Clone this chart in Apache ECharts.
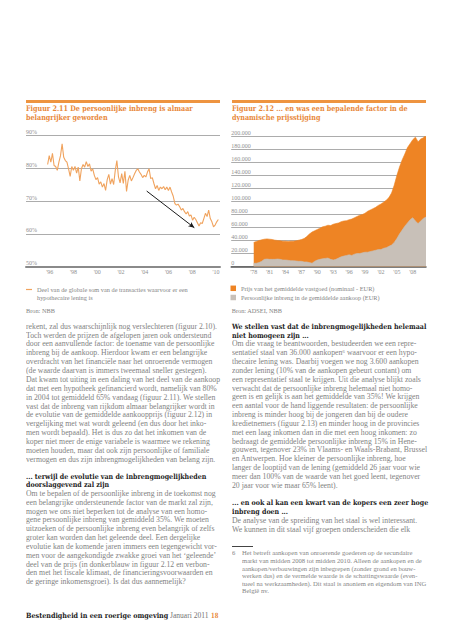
<!DOCTYPE html>
<html><head><meta charset="utf-8">
<script src="https://cdn.jsdelivr.net/npm/echarts@6/dist/echarts.min.js"></script>
<style>
html,body{margin:0;padding:0;background:#fff;}
#chart{position:absolute;left:0;top:0;width:452px;height:640px;}
#page{position:absolute;left:0;top:0;width:452px;height:640px;pointer-events:none;}
.t{position:absolute;white-space:nowrap;transform-origin:0 50%;}
.bar{position:absolute;background:#EE9440;}
</style></head><body>
<div id="chart"></div><div id="page"></div>
<script>
// ---------- DATA ----------
// Figuur 2.11: share of transactions financed with a mortgage (%), ~1996-2010
const leftStartYear = 1995.82;
const leftEndYear = 2010.19;
const leftShare = [81.2,83.9,81.9,84.6,80.9,80.6,79.4,81.9,83.9,87.5,83.4,82.4,81.9,79.9,77.6,80.6,79.4,80.6,78.6,80.4,
  76.2,79.9,81.2,80.4,82.1,80.6,81.4,79.2,79.9,77.9,76.6,77.2,75.2,75.9,74.3,75.4,73.3,76.6,78.2,75.2,
  76.9,75.1,79.4,82.4,77.4,75.6,78.4,75.4,79.1,73.0,76.4,77.9,76.2,77.2,78.4,79.4,79.9,78.9,78.2,77.2,
  77.9,77.4,78.9,79.9,76.9,77.2,75.4,73.8,74.8,73.3,74.3,73.8,74.5,73.5,74.3,73.3,74.3,72.8,71.5,69.3,
  68.8,69.1,68.3,67.3,67.8,66.8,66.1,66.8,65.5,65.8,64.2,65.1,64.4,63.4,62.4,63.4,63.2,64.7,66.3,65.3,
  67.3,64.7,63.7,62.2,62.7,63.7,64.4];
const arrowFrom = [2004.16, 73.1];
const arrowTo = [2008.17, 61.9];
const leftXLabels = [1996,1998,2000,2002,2004,2006,2008,2010];
const leftLegendLines = ['Deel van de globale som van de transacties waarvoor er een','hypothecaire lening is'];

// Figuur 2.12: half-yearly values (EUR) from 1978
const rightStartYear = 1978;
const rightStep = 0.5;
const priceAvg = [37000,38500,40000,41000,42000,42500,42000,41500,40500,40000,39500,39000,39000,38500,39000,39000,
  39500,40500,41500,43000,46000,50000,53000,55000,57000,59000,61000,62000,63500,63000,65000,66000,
  67000,69000,70000,70500,72000,73000,75000,77000,79000,80000,82000,85000,87000,89000,91000,94000,
  96000,99000,102000,106000,113000,125000,140000,153000,164000,173000,183000,189000,195000,199000,192000,196000,198000,203000];
const ownContribution = [5000,5000,6000,8000,11000,11500,11000,11000,11000,11500,11000,10000,10000,9500,9000,9000,
  8500,8000,8000,7000,7000,6000,5000,8000,10000,11000,12000,12500,13000,11000,10000,11000,
  13000,15000,16000,17000,18000,17000,19000,20000,20000,21000,22000,22000,23000,24000,25000,26000,
  26000,28000,29000,31000,33000,37000,43000,50000,56000,62000,67000,72000,75000,70000,66000,70000,74000,76000];
const rightXLabels = [1978,1981,1984,1987,1990,1993,1996,1999,2002,2005,2008];
const rightSeriesNames = ['Prijs van het gemiddelde vastgoed (nominaal - EUR)','Persoonlijke inbreng in de gemiddelde aankoop (EUR)'];

// ---------- TEXT ----------
const titleLeft = ['Figuur 2.11 De persoonlijke inbreng is almaar','belangrijker geworden'];
const titleRight = ['Figuur 2.12 ... en was een bepalende factor in de','dynamische prijsstijging'];
const sourceLeft = 'Bron: NBB';
const sourceRight = 'Bron: ADSEI, NBB';
const bodyL1 = [
 'rekent, zal dus waarschijnlijk nog verslechteren (figuur 2.10).',
 'Toch werden de prijzen de afgelopen jaren ook ondersteund',
 'door een aanvullende factor: de toename van de persoonlijke',
 'inbreng bij de aankoop. Hierdoor kwam er een belangrijke',
 'overdracht van het financiële naar het onroerende vermogen',
 '(de waarde daarvan is immers tweemaal sneller gestegen).',
 'Dat kwam tot uiting in een daling van het deel van de aankoop',
 'dat met een hypotheek gefinancierd wordt, namelijk van 80%',
 'in 2004 tot gemiddeld 65% vandaag (figuur 2.11). We stellen',
 'vast dat de inbreng van rijkdom almaar belangrijker wordt in',
 'de evolutie van de gemiddelde aankoopprijs (figuur 2.12) in',
 'vergelijking met wat wordt geleend (en dus door het inko-',
 'men wordt bepaald). Het is dus zo dat het inkomen van de',
 'koper niet meer de enige variabele is waarmee we rekening',
 'moeten houden, maar dat ook zijn persoonlijke of familiale',
 'vermogen en dus zijn inbrengmogelijkheden van belang zijn.'];
const headL = ['... terwijl de evolutie van de inbrengmogelijkheden','doorslaggevend zal zijn'];
const bodyL2 = [
 'Om te bepalen of de persoonlijke inbreng in de toekomst nog',
 'een belangrijke ondersteunende factor van de markt zal zijn,',
 'mogen we ons niet beperken tot de analyse van een homo-',
 'gene persoonlijke inbreng van gemiddeld 35%. We moeten',
 'uitzoeken of de persoonlijke inbreng even belangrijk of zelfs',
 'groter kan worden dan het geleende deel. Een dergelijke',
 'evolutie kan de komende jaren immers een tegengewicht vor-',
 'men voor de aangekondigde zwakke groei van het \u2018geleende\u2019',
 'deel van de prijs (in donkerblauw in figuur 2.12 en verbon-',
 'den met het fiscale klimaat, de financieringsvoorwaarden en',
 'de geringe inkomensgroei). Is dat dus aannemelijk?'];
const headR1 = ['We stellen vast dat de inbrengmogelijkheden helemaal','niet homogeen zijn ...'];
const bodyR1 = [
 'Om die vraag te beantwoorden, bestudeerden we een repre-',
 'sentatief staal van 36.000 aankopen\u2076 waarvoor er een hypo-',
 'thecaire lening was. Daarbij voegen we nog 3.600 aankopen',
 'zonder lening (10% van de aankopen gebeurt contant) om',
 'een representatief staal te krijgen. Uit die analyse blijkt zoals',
 'verwacht dat de persoonlijke inbreng helemaal niet homo-',
 'geen is en gelijk is aan het gemiddelde van 35%! We krijgen',
 'een aantal voor de hand liggende resultaten: de persoonlijke',
 'inbreng is minder hoog bij de jongeren dan bij de oudere',
 'kredietnemers (figuur 2.13) en minder hoog in de provincies',
 'met een laag inkomen dan in die met een hoog inkomen: zo',
 'bedraagt de gemiddelde persoonlijke inbreng 15% in Hene-',
 'gouwen, tegenover 23% in Vlaams- en Waals-Brabant, Brussel',
 'en Antwerpen. Hoe kleiner de persoonlijke inbreng, hoe',
 'langer de looptijd van de lening (gemiddeld 26 jaar voor wie',
 'meer dan 100% van de waarde van het goed leent, tegenover',
 '20 jaar voor wie maar 65% leent).'];
const headR2 = ['... en ook al kan een kwart van de kopers een zeer hoge','inbreng doen ...'];
const bodyR2 = ['De analyse van de spreiding van het staal is wel interessant.','We kunnen in dit staal vijf groepen onderscheiden die elk'];
const footnote = [
 'Het betreft aankopen van onroerende goederen op de secundaire',
 'markt van midden 2008 tot midden 2010. Alleen de aankopen en de',
 'aankopen/verbouwingen zijn inbegrepen (zonder grond en bouw-',
 'werken dus) en de vermelde waarde is de schattingswaarde (even-',
 'tueel na werkzaamheden). Dit staal is anoniem en eigendom van ING',
 'België nv.'];
const footer = ['Bestendigheid in een roerige omgeving','Januari 2011','18'];

// ---------- HTML TEXT ----------
const page = document.getElementById('page');
const cv = document.createElement('canvas').getContext('2d');
function mw(text, font){ cv.font = font; return cv.measureText(text).width; }
function put(text, x, y, font, color, scale){
  const d = document.createElement('div');
  d.className = 't';
  d.style.font = font;
  d.style.lineHeight = '10px';
  d.style.height = '10px';
  d.style.left = x + 'px';
  d.style.top = (y - 5) + 'px';
  d.style.color = color;
  d.style.transform = 'scaleX(' + scale + ')';
  d.textContent = text;
  page.appendChild(d);
}
function block(lines, x, y0, dy, font, color, scale){
  lines.forEach((s,i)=>put(s, x, y0 + i*dy, font, color, scale));
}
const fBody = "7.4px 'Liberation Serif'";
const fHead = "bold 7.2px 'DejaVu Serif'";
const fTitle = "bold 7.6px 'DejaVu Serif'";
const fFn = "6.2px 'Liberation Serif'";
const fSrc = "6.3px 'Liberation Serif'";
const sBody = 194 / mw(bodyL1[6], fBody);
const sHead = 194.3 / mw(headR1[0], fHead);
const sTitle = 166.7 / mw(titleLeft[0], fTitle);
const sFn = 180 / mw(footnote[1], fFn);
const cBody = '#828282', cHead = '#1c1c1c', cOrange = '#E8883A';

function bar(x, y, w, h, color){ const d=document.createElement('div'); d.className='bar'; Object.assign(d.style,{left:x+'px',top:y+'px',width:w+'px',height:h+'px'}); if(color) d.style.background=color; page.appendChild(d); }
bar(26, 100, 194, 2.7);
bar(231.7, 100, 194.3, 2.7);
block(titleLeft, 26, 109, 9.3, fTitle, cOrange, sTitle);
block(titleRight, 231.7, 109, 9.3, fTitle, cOrange, sTitle);
put(sourceLeft, 26, 311, fSrc, '#848484', 1);
put(sourceRight, 231.7, 310.7, fSrc, '#848484', 1);

block(bodyL1, 26, 326.7, 8.87, fBody, cBody, sBody);
block(headL, 26, 476.7, 8.5, fHead, cHead, sHead);
block(bodyL2, 26, 494, 8.83, fBody, cBody, sBody);
block(headR1, 231.7, 326.7, 9, fHead, cHead, sHead);
block(bodyR1, 231.7, 344.3, 8.84, fBody, cBody, sBody);
block(headR2, 231.7, 503.3, 8.4, fHead, cHead, sHead);
block(bodyR2, 231.7, 520.7, 9, fBody, cBody, sBody);
bar(231.7, 545.5, 21, 0.8, '#444');
put('6', 231.7, 553.3, fFn, '#858585', sFn);
block(footnote, 241.7, 553.3, 7.6, fFn, '#858585', sFn);
put(footer[0], 26, 615.7, fHead, cHead, 142.3 / mw(footer[0], fHead));
put(footer[1], 170, 615.7, fBody, '#747474', 38.5 / mw(footer[1], fBody));
put(footer[2], 211, 615.7, fHead, cOrange, 7.3 / mw(footer[2], fHead));

// ---------- CHART ----------
const leftStep = (leftEndYear - leftStartYear) / (leftShare.length - 1);
const leftData = leftShare.map((v,i)=>[leftStartYear + i*leftStep, v]);
const priceData = priceAvg.map((v,i)=>[rightStartYear + i*rightStep, v]);
const ownData = ownContribution.map((v,i)=>[rightStartYear + i*rightStep, v]);

const lineColor = '#F0A35E';
const legendIconSvg = "<svg xmlns='http://www.w3.org/2000/svg' width='6' height='17' viewBox='0 0 6 17'><rect x='0' y='4' width='6' height='1.2' fill='" + lineColor + "'/></svg>";
const legendIcon = 'image://data:image/svg+xml;charset=utf-8,' + encodeURIComponent(legendIconSvg);

const lblFont = {fontFamily:'Liberation Serif', fontSize:6, color:'#8f8f8f'};
const chart = echarts.init(document.getElementById('chart'), null, {renderer:'svg'});
chart.setOption({
  animation:false,
  backgroundColor:'#ffffff',
  grid:[
    {left:26, top:135.7, width:194, height:131},
    {left:231.2, top:136.5, width:194.8, height:130}
  ],
  xAxis:[
    {gridIndex:0, type:'value', min:1994, max:2010.33,
     axisLine:{show:true, onZero:false, lineStyle:{color:'#8a8a8a', width:2}},
     axisTick:{show:false}, splitLine:{show:false},
     axisLabel:Object.assign({customValues:leftXLabels, margin:2.5, formatter:v=>"'"+String(Math.round(v)).slice(2)}, lblFont)},
    {gridIndex:1, type:'value', min:1973.75, max:2010.5,
     axisLine:{show:true, onZero:false, lineStyle:{color:'#555555', width:1.5}},
     axisTick:{show:false}, splitLine:{show:false},
     axisLabel:Object.assign({customValues:rightXLabels, margin:2.5, formatter:v=>"'"+String(Math.round(v)).slice(2)}, lblFont)}
  ],
  yAxis:[
    {gridIndex:0, type:'value', min:50, max:90, interval:10,
     axisLine:{show:false}, axisTick:{show:false},
     splitLine:{lineStyle:{color:'#acacac', width:1}},
     axisLabel:Object.assign({inside:true, margin:0, verticalAlign:'bottom', lineHeight:7, formatter:'{value}%'}, lblFont)},
    {gridIndex:1, type:'value', min:0, max:200000, interval:20000,
     axisLine:{show:false}, axisTick:{show:false},
     splitLine:{lineStyle:{color:'#acacac', width:1}},
     axisLabel:Object.assign({inside:true, margin:0, verticalAlign:'bottom', lineHeight:7,
       formatter:v=>v===0?'0':(v/1000)+'.000'}, lblFont)}
  ],
  legend:[
    {left:26, top:284.8, padding:0, itemWidth:6, itemHeight:17, selectedMode:false,
     data:[{name:leftLegendLines.join(' '), icon:legendIcon}],
     formatter:()=>leftLegendLines.join('\n'),
     textStyle:{fontFamily:'Liberation Serif', fontSize:6.3, lineHeight:8.6, color:'#848484'}},
    {left:230.5, top:284.8, padding:0, orient:'vertical', itemWidth:5.5, itemHeight:5.5, itemGap:2.2, selectedMode:false,
     data:[{name:rightSeriesNames[0], icon:'rect'},{name:rightSeriesNames[1], icon:'rect'}],
     textStyle:{fontFamily:'Liberation Serif', fontSize:6.3, lineHeight:7, color:'#848484'}}
  ],
  series:[
    {name:leftLegendLines.join(' '), type:'line', xAxisIndex:0, yAxisIndex:0, data:leftData,
     showSymbol:false, symbol:'none', color:lineColor, lineStyle:{color:lineColor, width:1.1},
     markLine:{silent:true, symbol:['none','arrow'], symbolSize:[4,6],
       lineStyle:{color:'#1a1a1a', width:1, type:'solid'}, label:{show:false},
       data:[[{coord:arrowFrom},{coord:arrowTo}]]}},
    {name:rightSeriesNames[0], type:'line', xAxisIndex:1, yAxisIndex:1, data:priceData,
     showSymbol:false, symbol:'none', color:'#EE8424', lineStyle:{color:'#EE8424', width:0.6},
     areaStyle:{color:'#EE8424', opacity:1}},
    {name:rightSeriesNames[1], type:'line', xAxisIndex:1, yAxisIndex:1, data:ownData,
     showSymbol:false, symbol:'none', color:'#C8C0B8', lineStyle:{color:'#C8C0B8', width:0.6},
     areaStyle:{color:'#C8C0B8', opacity:1}}
  ]
});
</script>
</body></html>
